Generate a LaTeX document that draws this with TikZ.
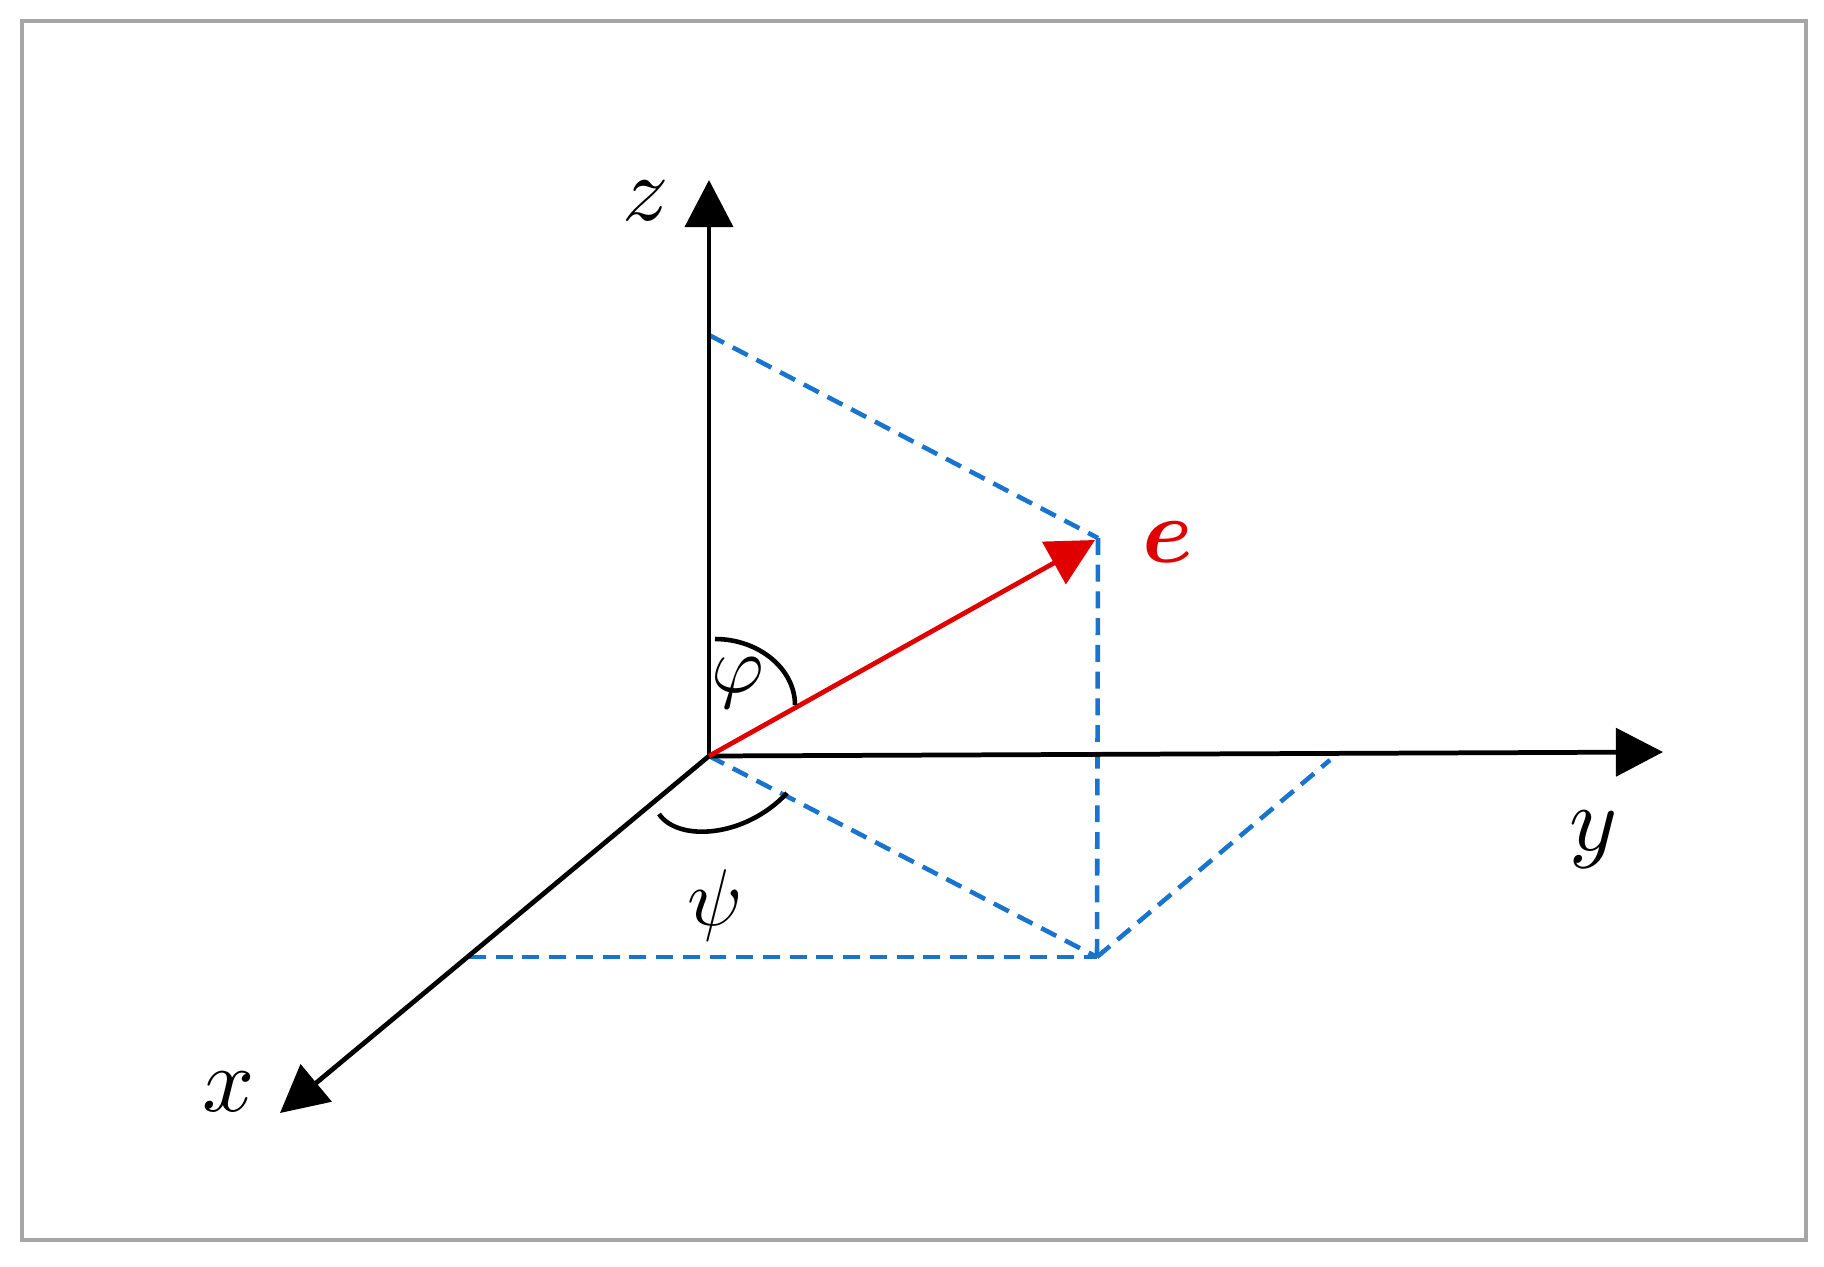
\documentclass[tikz,border=0pt]{standalone}
\usepackage{amsmath}
\usepackage{amssymb}
\usepackage{bm}
\usetikzlibrary{arrows.meta}
\definecolor{dashblue}{RGB}{24,116,205}
\definecolor{vecred}{RGB}{224,0,0}
\definecolor{framegray}{RGB}{166,166,166}

\begin{document}
\begin{tikzpicture}[x=0.01cm,y=-0.01cm,
	every node/.style={scale=2.6,inner sep=0pt},
	axis/.style={line width=1.35pt,-{Triangle[length=13.4pt,width=13.6pt]}},
	dashline/.style={dashblue,line width=1.3pt,dash pattern=on 4.8pt off 2.8pt}]
	\useasboundingbox (0,0) rectangle (1824,1266);
	\draw [framegray,line width=0.9pt] (22,21) rectangle (1806,1240);
	
	\coordinate (O) at (709,756);
	\coordinate (ztip) at (709,180);
	\coordinate (ytip) at (1663,752);
	\coordinate (xtip) at (280,1113);
	\coordinate (etip) at (1095,540);
	\coordinate (z1) at (709,335);
	\coordinate (x1) at (469,957);
	\coordinate (y1) at (1330,760);
	\coordinate (P) at (1098,538);
	\coordinate (Q) at (1097,957);
	
	\foreach \a/\b in {z1/P,P/Q,O/Q,x1/Q,Q/y1}
		\draw [dashline] (\a) -- (\b);
	
	\foreach \t in {ztip,ytip,xtip}
		\draw [axis] (O) -- (\t);
	\draw [axis,vecred] (O) -- (etip);
	
	\draw [line width=1.3pt] (715,639) .. controls (759,639) and (795,669) .. (795,705);
	\draw [line width=1.3pt] (659,814) .. controls (678,842) and (745,838) .. (787,793);
	
	\node (zlabel) at (646,201) {$z$};
	\node (ylabel) at (1594,840) {$y$};
	\node (xlabel) at (229,1092) {$x$};
	\node (elabel) [text=vecred] at (1168,542) {$\bm{e}$};
	\node (philabel) [scale=0.88] at (738,683) {$\varphi$};
	\node (psilabel) [scale=0.88] at (715,905) {$\psi$};
\end{tikzpicture}
\end{document}
